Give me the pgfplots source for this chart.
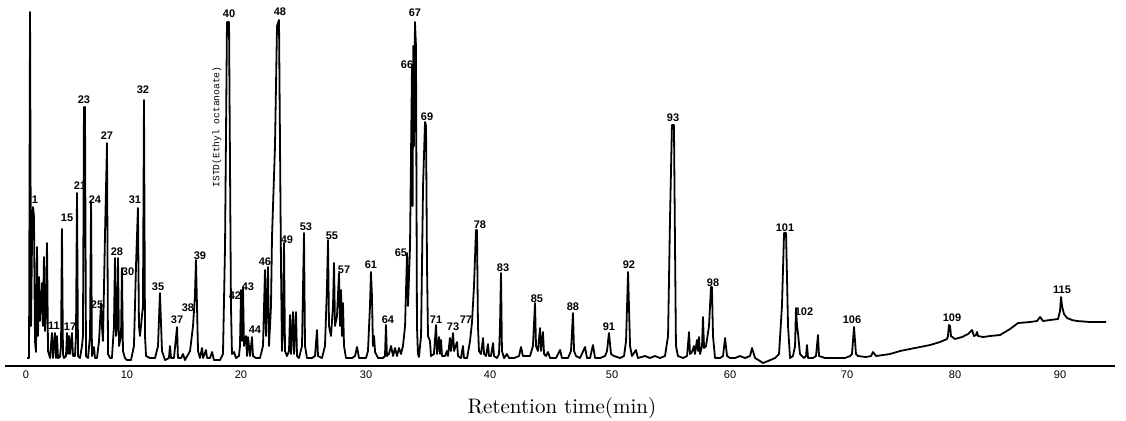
\documentclass[border=0pt]{standalone}
\usepackage{fontspec}
\usepackage{pgfplots}
\pgfplotsset{compat=1.18}
\newfontfamily\labfont{Liberation Sans}
\newfontfamily\istdfont{Liberation Mono}

% the printed minute scale is uneven, so minutes are mapped piecewise onto the paper
\pgfplotsset{
  x coord trafo/.code={\pgfmathparse{(#1<10)?(26+10.1*(#1)):((#1<20)?(127+11.4*(#1-10)):((#1<30)?(241+12.5*(#1-20)):((#1<40)?(366+12.4*(#1-30)):((#1<50)?(490+12.2*(#1-40)):((#1<60)?(612+11.8*(#1-50)):((#1<70)?(730+11.7*(#1-60)):((#1<80)?(847+10.8*(#1-70)):(955+10.5*(#1-80)))))))))}},
}
\tikzset{pk/.style={font=\labfont\bfseries\fontsize{5.5}{6}\selectfont, inner sep=0pt}}

\begin{document}
\begin{tikzpicture}
\begin{axis}[
  scale only axis, width=555pt, height=210pt,
  xmin=-2.08, xmax=95.24, ymin=-54, ymax=366,
  axis x line=middle, axis y line=none,
  x axis line style={-, line width=1.1pt},
  xtick={0,10,20,30,40,50,60,70,80,90},
  xticklabels={0,10,20,30,40,50,60,70,80,90},
  major tick length=0pt,
  xticklabel style={font=\labfont\fontsize{5.5}{6}\selectfont, inner sep=1pt, yshift=-1pt},
  ytick=\empty,
  clip=false,
]
\addplot[black, line width=0.9pt, line join=round] coordinates {
(0.10,8) (0.30,8) (0.40,354) (0.50,40) (0.59,120) (0.69,159) (0.79,150) (0.89,25)
(0.99,14) (1.09,119) (1.19,30) (1.29,89) (1.39,45) (1.58,83) (1.68,40) (1.78,109)
(1.88,35) (1.98,55) (2.08,123) (2.18,15) (2.38,8) (2.57,33) (2.67,8) (2.87,33)
(2.97,8) (3.07,30) (3.17,8) (3.37,9) (3.47,20) (3.56,137) (3.66,12) (3.76,8)
(3.96,10) (4.06,33) (4.16,12) (4.26,30) (4.36,12) (4.55,33) (4.65,10) (4.85,10)
(4.95,30) (5.05,173) (5.15,10) (5.35,8) (5.54,20) (5.64,30) (5.74,259) (5.84,259)
(5.94,10) (6.14,8) (6.34,30) (6.44,164) (6.53,10) (6.73,19) (6.83,8) (7.03,8)
(7.23,25) (7.43,63) (7.52,40) (7.62,25) (7.82,130) (8.02,223) (8.12,12) (8.32,8)
(8.51,8) (8.71,40) (8.81,108) (8.91,30) (9.01,40) (9.11,108) (9.21,20) (9.41,30)
(9.50,98) (9.60,15) (9.80,8) (10.00,6)
(10.35,6) (10.61,20) (10.79,100) (10.96,158) (11.05,40) (11.14,30) (11.40,60) (11.49,266)
(11.58,30) (11.67,10) (12.02,8) (12.46,8) (12.72,20) (12.89,73) (13.07,15) (13.33,6)
(13.68,8) (13.77,20) (13.86,8) (14.12,8) (14.39,39) (14.47,8) (14.74,8) (14.91,12)
(15.09,6) (15.53,15) (15.79,40) (15.96,70) (16.05,106) (16.14,60) (16.23,15) (16.40,8)
(16.58,18) (16.67,8) (16.93,16) (17.02,8) (17.28,8) (17.46,14) (17.63,6) (18.16,6)
(18.42,12) (18.60,120) (18.77,344) (18.95,344) (19.12,60) (19.21,12) (19.39,14) (19.56,8)
(19.82,10) (19.91,20)
(20.00,76) (20.08,25) (20.16,79) (20.24,20) (20.40,30) (20.48,10) (20.56,29) (20.72,10)
(20.88,29) (20.96,10) (21.20,8) (21.52,8) (21.76,20) (21.92,96) (22.00,30) (22.16,99)
(22.24,20) (22.40,60) (22.48,129) (22.72,220) (22.88,340) (23.04,346) (23.20,100) (23.28,15)
(23.36,40) (23.44,123) (23.52,15) (23.68,10) (23.84,15) (23.92,51) (24.00,12) (24.16,54)
(24.24,12) (24.40,54) (24.48,10) (24.64,8) (24.88,20) (25.04,133) (25.12,20) (25.28,8)
(25.68,8) (25.92,10) (26.08,36) (26.16,10) (26.48,8) (26.72,20) (26.88,80) (26.96,126)
(27.04,40) (27.20,30) (27.36,60) (27.44,103) (27.52,40) (27.68,50) (27.84,93) (27.92,40)
(28.00,76) (28.08,30) (28.16,63) (28.24,20) (28.40,8) (28.88,8) (29.12,10) (29.28,19)
(29.44,8) (29.76,8) (30.00,8)
(30.16,15) (30.32,60) (30.40,94) (30.48,70) (30.56,20) (30.65,30) (30.73,14) (30.97,8)
(31.37,8) (31.53,10) (31.61,41) (31.69,10) (31.85,12) (32.02,20) (32.18,10) (32.34,18)
(32.50,10) (32.66,18) (32.82,12) (32.98,20) (33.15,40) (33.31,113) (33.39,60) (33.55,120)
(33.71,301) (33.76,160) (33.81,320) (33.87,220) (33.95,344) (34.03,320) (34.11,40) (34.19,12)
(34.27,9)
(34.44,30) (34.60,180) (34.76,244) (34.84,240) (34.92,100) (35.00,30) (35.16,25) (35.24,10)
(35.48,12) (35.65,41) (35.73,12) (35.89,29) (35.97,12) (36.05,26) (36.13,10) (36.37,10)
(36.53,15) (36.61,10) (36.77,28) (36.85,15) (37.02,33) (37.10,15) (37.34,24) (37.42,10)
(37.66,8) (37.82,20) (37.90,8) (38.15,8) (38.39,25) (38.55,44) (38.71,80) (38.87,136)
(38.95,136) (39.03,40) (39.11,15) (39.27,12) (39.44,28) (39.52,12) (39.68,10) (39.84,22)
(39.92,10)
(40.08,10) (40.25,23) (40.33,10) (40.57,8) (40.74,12) (40.82,40) (40.90,93) (40.98,15)
(41.15,8) (41.39,12) (41.56,8) (41.97,8) (42.38,10) (42.54,19) (42.70,10) (43.28,10)
(43.52,20) (43.69,63) (43.77,20) (43.93,15) (44.10,38) (44.18,15) (44.34,34) (44.43,12)
(44.59,10) (44.75,14) (44.92,8) (45.41,8) (45.74,16) (45.90,8) (46.39,8) (46.64,15)
(46.80,53) (46.89,15) (47.05,10) (47.38,8) (47.79,19) (47.95,8) (48.20,8) (48.44,21)
(48.61,8) (49.02,8) (49.43,10) (49.59,15) (49.75,33) (49.92,12)
(50.17,10) (50.68,8) (51.02,10) (51.19,25) (51.36,94) (51.53,20) (51.69,10) (52.03,16)
(52.20,8) (52.80,10) (53.22,8) (53.64,10) (54.07,8) (54.49,10) (54.75,30) (54.92,150)
(55.08,241) (55.25,241) (55.34,120) (55.42,20) (55.59,10) (56.02,8) (56.36,10) (56.53,34)
(56.61,12) (56.78,14) (56.95,20) (57.03,12) (57.20,26) (57.29,15) (57.37,29) (57.46,12)
(57.63,20) (57.71,49) (57.80,18) (57.97,20) (58.22,40) (58.39,79) (58.47,79) (58.56,30)
(58.73,8) (59.15,8) (59.41,10) (59.58,28) (59.75,10) (60.00,8)
(60.43,8) (60.85,10) (61.28,8) (61.71,10) (61.88,18) (62.14,8) (62.56,5) (62.82,3)
(63.25,5) (63.85,8) (64.19,12) (64.44,60) (64.62,133) (64.79,133) (64.96,40) (65.13,8)
(65.38,10) (65.56,20) (65.64,58) (65.73,40) (65.81,33) (65.98,12) (66.32,8) (66.50,10)
(66.58,21) (66.67,8) (67.09,8) (67.35,10) (67.52,31) (67.61,10) (68.12,8) (68.97,8)
(69.83,8)
(70.28,10) (70.46,12) (70.65,39) (70.83,12) (71.02,10) (71.76,9) (72.22,10) (72.41,14)
(72.69,10) (73.98,12) (74.91,15) (75.83,17) (76.76,19) (77.69,21) (78.61,24) (79.26,27)
(79.35,30) (79.44,41) (79.54,40) (79.63,30)
(80.00,27) (80.67,29) (81.24,32) (81.62,36) (81.81,30) (82.00,31) (82.10,34) (82.19,30)
(82.67,29) (83.33,30) (84.29,31) (85.24,37) (86.00,43) (87.14,44) (87.81,45) (88.10,49)
(88.38,45) (89.05,46) (89.81,47) (90.00,55) (90.10,69) (90.19,60) (90.38,52) (90.67,48)
(91.14,46) (91.62,45) (92.86,44) (94.38,44)
};
% peak numbers
\node[pk] at (axis cs:0.89,166) {1};
\node[pk] at (axis cs:2.77,40) {11};
\node[pk] at (axis cs:4.06,148) {15};
\node[pk] at (axis cs:4.36,39) {17};
\node[pk] at (axis cs:5.35,180) {21};
\node[pk] at (axis cs:5.74,266) {23};
\node[pk] at (axis cs:6.83,166) {24};
\node[pk] at (axis cs:7.03,61) {25};
\node[pk] at (axis cs:8.02,230) {27};
\node[pk] at (axis cs:9.01,114) {28};
\node[pk] at (axis cs:10.09,94) {30};
\node[pk] at (axis cs:10.70,166) {31};
\node[pk] at (axis cs:11.40,276) {32};
\node[pk] at (axis cs:12.72,79) {35};
\node[pk] at (axis cs:14.39,46) {37};
\node[pk] at (axis cs:15.35,58) {38};
\node[pk] at (axis cs:16.40,110) {39};
\node[pk] at (axis cs:18.95,352) {40};
\node[pk] at (axis cs:19.47,70) {42};
\node[pk] at (axis cs:20.56,79) {43};
\node[pk] at (axis cs:21.12,36) {44};
\node[pk] at (axis cs:21.92,104) {46};
\node[pk] at (axis cs:23.12,354) {48};
\node[pk] at (axis cs:23.68,126) {49};
\node[pk] at (axis cs:25.20,139) {53};
\node[pk] at (axis cs:27.28,130) {55};
\node[pk] at (axis cs:28.24,96) {57};
\node[pk] at (axis cs:30.40,101) {61};
\node[pk] at (axis cs:31.77,46) {64};
\node[pk] at (axis cs:32.82,113) {65};
\node[pk] at (axis cs:33.31,301) {66};
\node[pk] at (axis cs:33.95,353) {67};
\node[pk] at (axis cs:34.92,249) {69};
\node[pk] at (axis cs:35.65,46) {71};
\node[pk] at (axis cs:37.02,39) {73};
\node[pk] at (axis cs:38.06,46) {77};
\node[pk] at (axis cs:39.19,141) {78};
\node[pk] at (axis cs:41.07,98) {83};
\node[pk] at (axis cs:43.85,67) {85};
\node[pk] at (axis cs:46.80,59) {88};
\node[pk] at (axis cs:49.75,39) {91};
\node[pk] at (axis cs:51.44,101) {92};
\node[pk] at (axis cs:55.17,248) {93};
\node[pk] at (axis cs:58.56,83) {98};
\node[pk] at (axis cs:64.70,138) {101};
\node[pk] at (axis cs:66.32,54) {102};
\node[pk] at (axis cs:70.46,46) {106};
\node[pk] at (axis cs:79.72,48) {109};
\node[pk] at (axis cs:90.19,76) {115};
\node[rotate=90, font=\istdfont\fontsize{4.8}{5}\selectfont, inner sep=0pt] at (axis cs:17.89,239) {ISTD(Ethyl octanoate)};
\node[font=\fontsize{10.5}{12}\selectfont] at (axis cs:45.9,-42) {Retention time(min)};
\coordinate (bbl) at (axis cs:-2.574,-54);
\coordinate (bbr) at (axis cs:96.286,366);
\end{axis}
\pgfresetboundingbox
\path (bbl) rectangle (bbr);
\end{tikzpicture}
\end{document}
